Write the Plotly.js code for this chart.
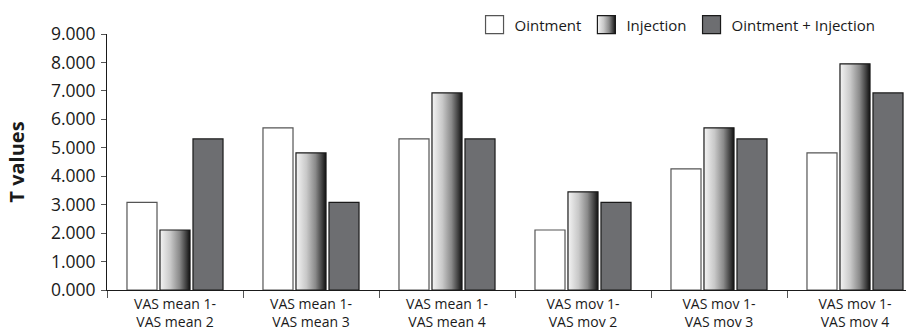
<!DOCTYPE html>
<html>
<head>
<meta charset="utf-8">
<script src="https://cdn.plot.ly/plotly-3.0.1.min.js"></script>
<style>
  html, body { margin: 0; padding: 0; background: #fff; }
  #chart { width: 906px; height: 332px; }
</style>
</head>
<body>
<div id="chart"></div>
<script>
const categories = [
  "VAS mean 1-<br>VAS mean 2",
  "VAS mean 1-<br>VAS mean 3",
  "VAS mean 1-<br>VAS mean 4",
  "VAS mov 1-<br>VAS mov 2",
  "VAS mov 1-<br>VAS mov 3",
  "VAS mov 1-<br>VAS mov 4"
];
const ointment = [3.08, 5.70, 5.31, 2.11, 4.26, 4.82];
const injection = [2.11, 4.82, 6.93, 3.45, 5.70, 7.95];
const combined = [5.31, 3.08, 5.31, 3.08, 5.31, 6.93];
const tickValues = [0, 1, 2, 3, 4, 5, 6, 7, 8, 9];
const tickLabels = ["0.000", "1.000", "2.000", "3.000", "4.000", "5.000", "6.000", "7.000", "8.000", "9.000"];

const FONT = "Open Sans, Noto Sans, sans-serif";

const traces = [
  {
    type: "bar", name: "Ointment", x: categories, y: ointment,
    marker: { color: "#ffffff", line: { color: "#555555", width: 1.2 } }
  },
  {
    type: "bar", name: "Injection", x: categories, y: injection,
    marker: { color: "#999999", line: { color: "#1a1a1a", width: 1.2 } }
  },
  {
    type: "bar", name: "Ointment + Injection", x: categories, y: combined,
    marker: { color: "#6d6e71", line: { color: "#1a1a1a", width: 1.2 } }
  }
];

const layout = {
  width: 906, height: 332,
  margin: { l: 107, r: 0, t: 34, b: 42, pad: 0 },
  paper_bgcolor: "#ffffff", plot_bgcolor: "#ffffff",
  font: { family: FONT, color: "#1a1a1a", size: 14 },
  barmode: "group",
  bargap: 0.272,
  bargroupgap: 0.09,
  showlegend: true,
  legend: {
    orientation: "h", x: 0.46, xanchor: "left", y: 1.1, yanchor: "top",
    font: { family: FONT, size: 15, color: "#1a1a1a" },
    bgcolor: "rgba(0,0,0,0)", traceorder: "normal"
  },
  xaxis: {
    type: "category",
    range: [-0.5, 5.375],
    showline: true, linecolor: "#1a1a1a", linewidth: 1,
    ticks: "outside", ticklen: 7, tickcolor: "#555555", tickwidth: 1,
    tickson: "boundaries",
    showgrid: false, zeroline: false,
    tickfont: { family: FONT, size: 14, color: "#1a1a1a" },
    ticklabelstandoff: 1,
    fixedrange: true
  },
  yaxis: {
    range: [0, 9],
    tickmode: "array", tickvals: tickValues, ticktext: tickLabels,
    showline: true, linecolor: "#1a1a1a", linewidth: 1,
    ticks: "outside", ticklen: 5, tickcolor: "#555555", tickwidth: 1,
    showgrid: false, zeroline: false,
    tickfont: { family: FONT, size: 17.5, color: "#1a1a1a" },
    ticklabelstandoff: 2,
    title: { text: "<b>T values</b>", font: { family: FONT, size: 20, color: "#1a1a1a" }, standoff: 20 },
    fixedrange: true
  }
};

const gd = document.getElementById("chart");
Plotly.newPlot(gd, traces, layout, { staticPlot: true, displayModeBar: false }).then(function () {
  const svg = gd.querySelector("svg.main-svg");
  const ns = "http://www.w3.org/2000/svg";
  let defs = svg.querySelector("defs");
  if (!defs) { defs = document.createElementNS(ns, "defs"); svg.insertBefore(defs, svg.firstChild); }
  const grad = document.createElementNS(ns, "linearGradient");
  grad.setAttribute("id", "injGrad");
  grad.setAttribute("x1", "0"); grad.setAttribute("y1", "0");
  grad.setAttribute("x2", "1"); grad.setAttribute("y2", "0");
  [["0", "#f4f4f4"], ["0.35", "#c8c8c8"], ["0.65", "#8a8a8a"], ["0.88", "#3c3c3c"], ["1", "#111111"]].forEach(function (s) {
    const st = document.createElementNS(ns, "stop");
    st.setAttribute("offset", s[0]); st.setAttribute("stop-color", s[1]);
    grad.appendChild(st);
  });
  defs.appendChild(grad);
  const barTraces = gd.querySelectorAll(".barlayer .trace");
  if (barTraces[1]) barTraces[1].querySelectorAll("path").forEach(function (p) { p.style.fill = "url(#injGrad)"; });
  const legItems = gd.querySelectorAll(".legend .traces");
  legItems.forEach(function (item, i) {
    const p = item.querySelector(".legendpoints path");
    if (p) {
      p.setAttribute("transform", (p.getAttribute("transform") || "") + " scale(1.5)");
      p.style.strokeWidth = "0.8px";
      if (i === 1) p.style.fill = "url(#injGrad)";
    }
  });
});
</script>
</body>
</html>
